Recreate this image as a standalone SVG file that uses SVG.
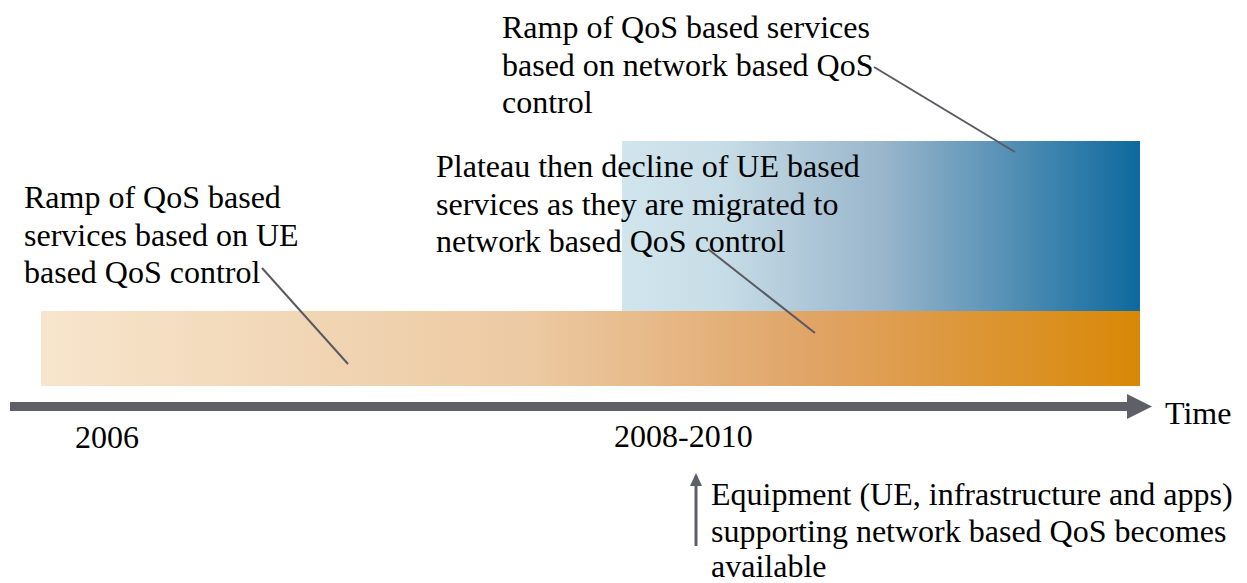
<svg xmlns="http://www.w3.org/2000/svg" width="1247" height="583" viewBox="0 0 1247 583">
<defs>
<linearGradient id="gOr" x1="0" y1="0" x2="1" y2="0">
<stop offset="0" stop-color="#f7e5cc"/>
<stop offset="0.45" stop-color="#ecc9a1"/>
<stop offset="0.7" stop-color="#e0a466"/>
<stop offset="1" stop-color="#d98806"/>
</linearGradient>
<linearGradient id="gBl" x1="0" y1="0" x2="1" y2="0">
<stop offset="0" stop-color="#d1e5ed"/>
<stop offset="0.2" stop-color="#c6dce6"/>
<stop offset="0.5" stop-color="#9ab6cc"/>
<stop offset="1" stop-color="#0d699e"/>
</linearGradient>
<style>
.ln{stroke:#5a5a62;stroke-width:2;fill:none}
</style>
</defs>
<g id="bands">
<rect id="blue-band" x="622" y="141" width="518" height="170" fill="url(#gBl)"/>
<rect id="orange-band" x="41" y="311" width="1099" height="75" fill="url(#gOr)"/>
</g>
<g font-family="Liberation Serif, Tinos, Times New Roman, DejaVu Serif, serif" font-size="32" fill="#000">
<g id="axis">
<rect x="10" y="402" width="1118" height="9" fill="#5f5f68"/>
<polygon points="1127,394 1152,406.5 1127,419" fill="#5f5f68"/>
<text x="1165" y="424">Time</text>
<text x="75" y="448">2006</text>
<text x="614" y="447">2008-2010</text>
</g>
<g id="label-network">
<text x="502" y="38">Ramp of QoS based services</text>
<text x="502" y="76">based on network based QoS</text>
<text x="502" y="113">control</text>
</g>
<g id="label-plateau">
<text x="436" y="177">Plateau then decline of UE based</text>
<text x="436" y="215">services as they are migrated to</text>
<text x="436" y="252">network based QoS control</text>
</g>
<g id="label-ue">
<text x="24" y="208">Ramp of QoS based</text>
<text x="24" y="246">services based on UE</text>
<text x="24" y="283">based QoS control</text>
</g>
<g id="label-equipment">
<text x="711" y="505">Equipment (UE, infrastructure and apps)</text>
<text x="711" y="542">supporting network based QoS becomes</text>
<text x="711" y="577">available</text>
</g>
</g>
<g id="connectors">
<line class="ln" x1="874" y1="67" x2="1015" y2="152"/>
<line class="ln" x1="708" y1="249" x2="815" y2="333"/>
<line class="ln" x1="262" y1="268" x2="348" y2="364"/>
<line x1="696" y1="546" x2="696" y2="484" stroke="#5f5f68" stroke-width="3"/>
<polygon points="690,486 702,486 696,473" fill="#5f5f68"/>
</g>
</svg>
